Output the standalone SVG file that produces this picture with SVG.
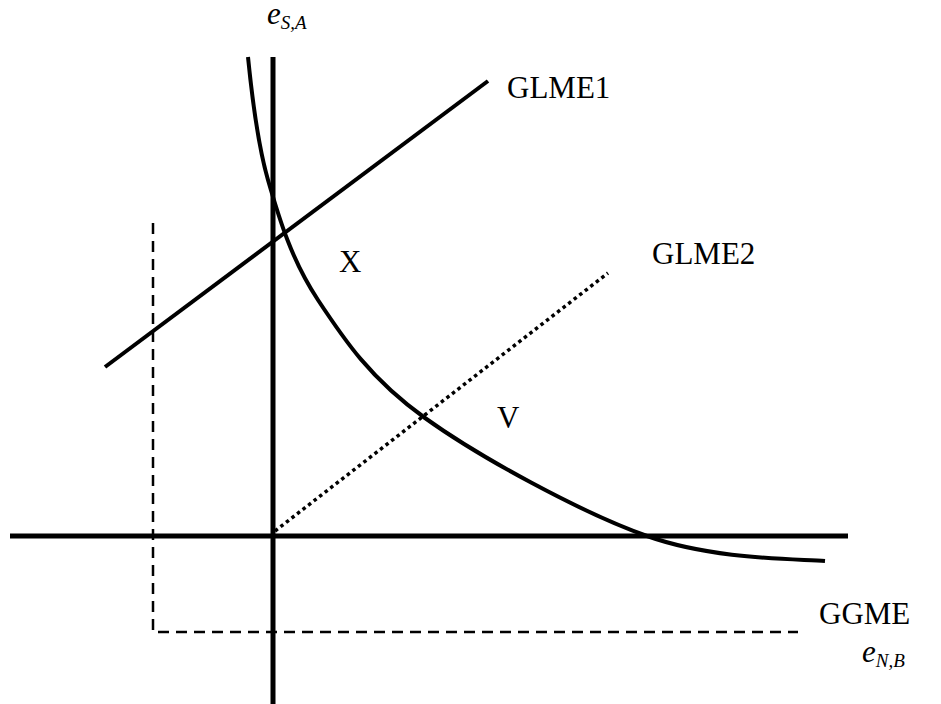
<svg xmlns="http://www.w3.org/2000/svg" width="941" height="704" viewBox="0 0 941 704">
<style>
.lbl{font-family:"Liberation Serif","Times New Roman",serif;font-size:31px;fill:#000}
.ax{stroke:#000;stroke-width:5;fill:none}
.solid{stroke:#000;stroke-width:4;fill:none}
.dash{stroke:#000;stroke-width:2.5;stroke-dasharray:11 7;fill:none}
.dot{stroke:#000;stroke-width:3.5;stroke-dasharray:3.5 3.5;fill:none}
</style>
<rect width="941" height="704" fill="#fff"/>
<g id="connectors">
<line id="axis-v" class="ax" x1="273" y1="57" x2="273" y2="704"/>
<line id="axis-h" class="ax" x1="10" y1="536" x2="848" y2="536"/>
<path id="ggme" class="dash" d="M153,223 L153,632 L798,632"/>
<line id="glme1" class="solid" x1="105" y1="367" x2="488" y2="81"/>
<line id="glme2" class="dot" x1="275" y1="531" x2="608" y2="273"/>
<path id="curve" class="solid" stroke-width="3.5" d="M248,57 C250,77 256.3,139.5 268,180 C279.7,220.5 291.8,260.3 318,300 C344.2,339.7 370.2,378.7 425,418 C479.8,457.3 580.3,512.2 647,536 C713.7,559.8 795.3,558.7 825,561"/>
</g>
<g id="label-esa"><text class="lbl" font-style="italic" x="267" y="24">e<tspan font-size="19" dy="5">S,A</tspan></text></g>
<g id="label-enb"><text class="lbl" font-style="italic" x="862" y="662">e<tspan font-size="19" dy="5">N,B</tspan></text></g>
<g id="label-glme1"><text class="lbl" x="507" y="98">GLME1</text></g>
<g id="label-glme2"><text class="lbl" x="652" y="264">GLME2</text></g>
<g id="label-ggme"><text class="lbl" x="819" y="624">GGME</text></g>
<g id="label-x"><text class="lbl" x="339" y="272">X</text></g>
<g id="label-v"><text class="lbl" x="497" y="428">V</text></g>
</svg>
